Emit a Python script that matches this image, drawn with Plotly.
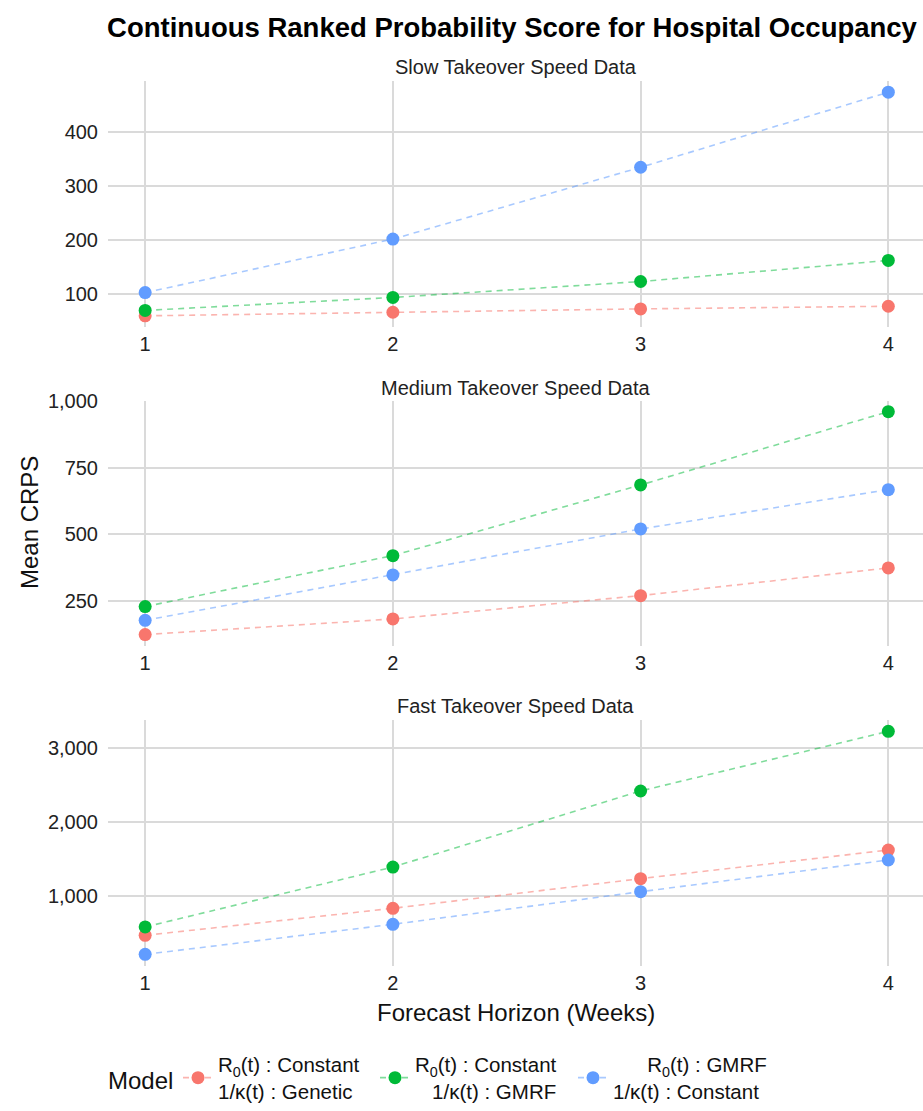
import plotly.graph_objects as go

horizons = [1, 2, 3, 4]
panels = ["Slow Takeover Speed Data", "Medium Takeover Speed Data", "Fast Takeover Speed Data"]
model_names = [
    "R<sub>0</sub>(t) : Constant<br>1/κ(t) : Genetic",
    "R<sub>0</sub>(t) : Constant<br>&nbsp;&nbsp;&nbsp;1/κ(t) : GMRF",
    "&nbsp;&nbsp;&nbsp;&nbsp;&nbsp;&nbsp;R<sub>0</sub>(t) : GMRF<br>1/κ(t) : Constant",
]
colors = ["#F8766D", "#00BA38", "#619CFF"]
line_colors = ["rgba(248,118,109,0.55)", "rgba(0,186,56,0.5)", "rgba(97,156,255,0.55)"]

slow_genetic = [60, 66.6, 72.8, 77.7]
slow_const_gmrf = [70, 94, 123.5, 162.5]
slow_gmrf_const = [103, 202, 335, 474]

medium_genetic = [124, 182.5, 270, 374]
medium_const_gmrf = [229, 420, 685, 960]
medium_gmrf_const = [177.5, 347.5, 520, 667.5]

fast_genetic = [464, 829, 1230, 1617]
fast_const_gmrf = [577, 1387, 2415, 3221]
fast_gmrf_const = [207, 613, 1054, 1482]

panel_data = [
    [slow_genetic, slow_const_gmrf, slow_gmrf_const],
    [medium_genetic, medium_const_gmrf, medium_gmrf_const],
    [fast_genetic, fast_const_gmrf, fast_gmrf_const],
]
tick_vals = [[100, 200, 300, 400], [250, 500, 750, 1000], [1000, 2000, 3000]]

W, H = 923, 1111
L = 108
PW = W - L
# pixel extents (top, bottom) of each panel
panel_px = [(81, 327), (400.5, 645.7), (720.2, 965.5)]
title_px = [67, 388, 706]
legend_names = ["legend", "legend2", "legend3"]
legend_x_px = [178, 375, 573]

fig = go.Figure()
font = "Liberation Sans"
grid = "#DADADA"

for p in range(3):
    ax = "" if p == 0 else str(p + 1)
    for m in range(3):
        fig.add_trace(go.Scatter(
            x=horizons, y=panel_data[p][m], mode="lines+markers",
            name=model_names[m], legendgroup=str(m), showlegend=(p == 0),
            legend=legend_names[m],
            line=dict(color=line_colors[m], width=1.6, dash="6px,5px"),
            marker=dict(color=colors[m], size=13),
            xaxis="x" + ax, yaxis="y" + ax,
        ))
    allv = [v for s in panel_data[p] for v in s]
    lo, hi = min(allv), max(allv)
    span = hi - lo
    top, bot = panel_px[p]
    fig.layout["xaxis" + ax] = dict(
        domain=[0, 1], anchor="y" + ax, range=[0.85, 4.14],
        tickvals=horizons, showgrid=True, gridcolor=grid, gridwidth=1.5,
        zeroline=False, showline=False, ticks="", ticklabelstandoff=3,
        tickfont=dict(size=20, color="#222", family=font),
    )
    fig.layout["yaxis" + ax] = dict(
        domain=[1 - bot / H, 1 - top / H], anchor="x" + ax,
        range=[lo - 0.05 * span, hi + 0.05 * span],
        tickvals=tick_vals[p], tickformat=",d",
        showgrid=True, gridcolor=grid, gridwidth=1.5,
        zeroline=False, showline=False, ticks="", ticklabelstandoff=9,
        tickfont=dict(size=20, color="#222", family=font),
    )
    fig.add_annotation(text=panels[p], xref="paper", yref="paper",
                       x=0.5, y=1 - title_px[p] / H, showarrow=False,
                       font=dict(size=20, color="#222", family=font),
                       xanchor="center", yanchor="middle")

fig.add_annotation(text="Mean CRPS", xref="paper", yref="paper",
                   x=(30 - L) / PW, y=1 - 523 / H, showarrow=False,
                   textangle=-90, font=dict(size=24, color="#111", family=font),
                   xanchor="center", yanchor="middle")
fig.add_annotation(text="Forecast Horizon (Weeks)", xref="paper", yref="paper",
                   x=(516 - L) / PW, y=1 - 1012 / H, showarrow=False,
                   font=dict(size=24, color="#111", family=font),
                   xanchor="center", yanchor="middle")
fig.add_annotation(text="Model", xref="paper", yref="paper",
                   x=(106 - L) / PW, y=1 - 1080 / H, showarrow=False,
                   font=dict(size=24, color="#111", family=font),
                   xanchor="left", yanchor="middle")

legend_common = dict(orientation="h", xanchor="left", y=1 - 1078 / H, yanchor="middle",
                     font=dict(size=20.5, color="#111", family=font), valign="middle",
                     bgcolor="rgba(0,0,0,0)")

fig.update_layout(
    width=W, height=H,
    margin=dict(l=L, r=0, t=0, b=0, autoexpand=False),
    paper_bgcolor="white", plot_bgcolor="white",
    title=dict(text="<b>Continuous Ranked Probability Score for Hospital Occupancy</b>",
               x=512 / W, xanchor="center", y=1 - 27 / H, yanchor="middle",
               yref="container", font=dict(size=27.5, color="#000", family=font)),
    legend=dict(legend_common, x=(legend_x_px[0] - L) / PW),
    legend2=dict(legend_common, x=(legend_x_px[1] - L) / PW),
    legend3=dict(legend_common, x=(legend_x_px[2] - L) / PW),
    showlegend=True,
)

fig.write_html("out.html")
